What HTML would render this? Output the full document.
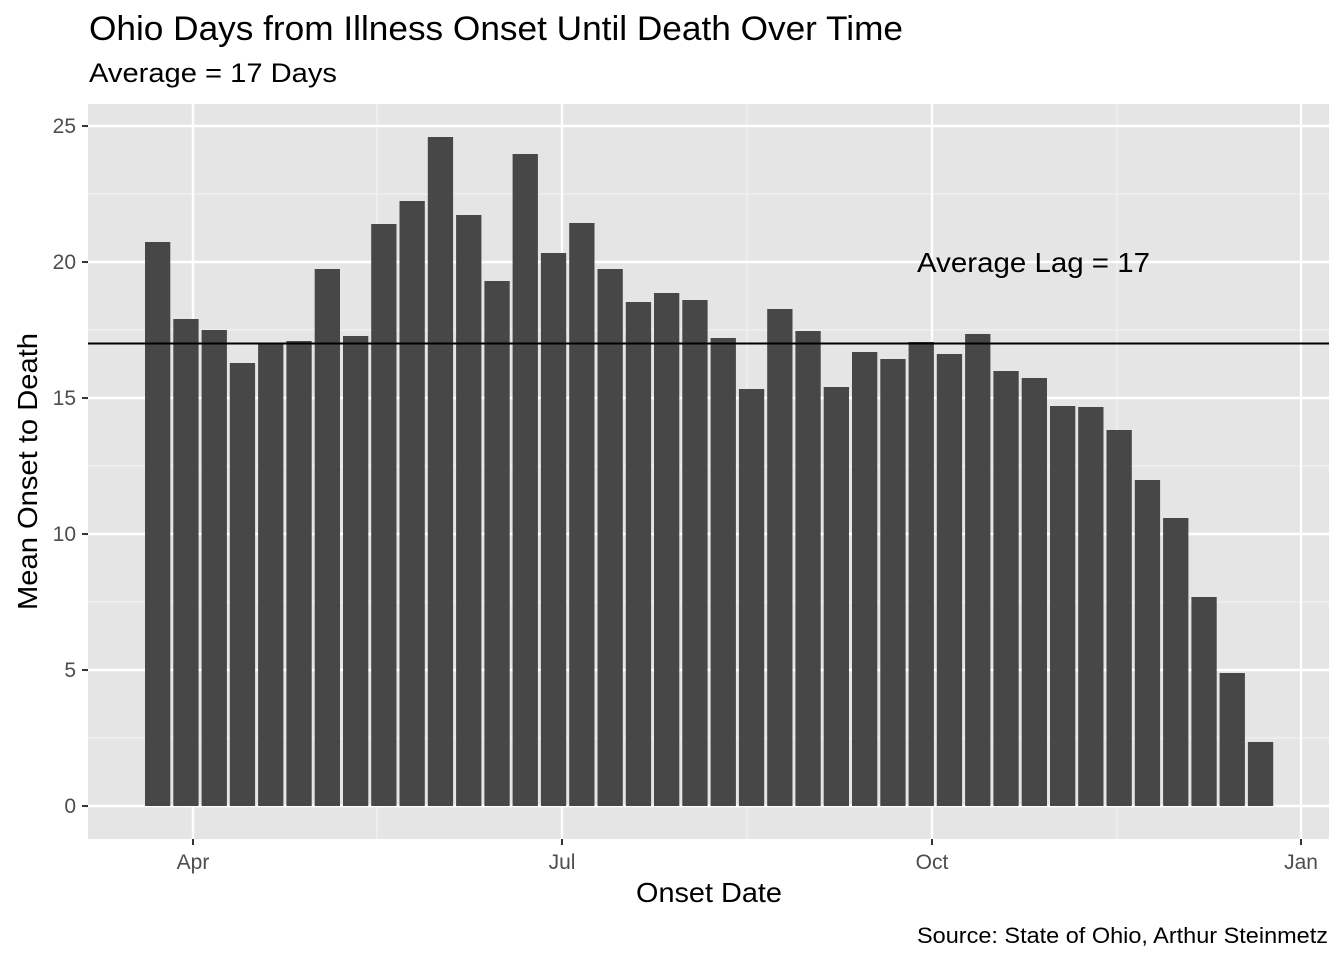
<!DOCTYPE html>
<html><head><meta charset="utf-8"><style>body{margin:0;background:#fff}svg{display:block}text{font-family:"Liberation Sans",Arial,sans-serif}</style></head><body>
<svg width="1344" height="960" xmlns="http://www.w3.org/2000/svg">
<rect x="0" y="0" width="1344" height="960" fill="#fff"/>
<text x="89" y="40" font-size="34" textLength="814" lengthAdjust="spacingAndGlyphs" fill="#000">Ohio Days from Illness Onset Until Death Over Time</text>
<text x="89" y="82" font-size="27" textLength="248" lengthAdjust="spacingAndGlyphs" fill="#000">Average = 17 Days</text>
<rect x="88" y="104" width="1241" height="735" fill="#e5e5e5"/>
<g stroke="#f2f2f2" stroke-width="1.2">
<line x1="88" x2="1329" y1="738" y2="738"/><line x1="88" x2="1329" y1="602" y2="602"/><line x1="88" x2="1329" y1="466" y2="466"/><line x1="88" x2="1329" y1="330" y2="330"/><line x1="88" x2="1329" y1="194" y2="194"/>
<line y1="104" y2="839" x1="377" x2="377"/><line y1="104" y2="839" x1="747" x2="747"/><line y1="104" y2="839" x1="1117" x2="1117"/>
</g>
<g stroke="#fff" stroke-width="2.4">
<line x1="88" x2="1329" y1="806" y2="806"/><line x1="88" x2="1329" y1="670" y2="670"/><line x1="88" x2="1329" y1="534" y2="534"/><line x1="88" x2="1329" y1="398" y2="398"/><line x1="88" x2="1329" y1="262" y2="262"/><line x1="88" x2="1329" y1="126" y2="126"/>
<line y1="104" y2="839" x1="193" x2="193"/><line y1="104" y2="839" x1="562" x2="562"/><line y1="104" y2="839" x1="932" x2="932"/><line y1="104" y2="839" x1="1301" x2="1301"/>
</g>
<g fill="#474747">
<rect x="145.0" y="242" width="25.3" height="564"/>
<rect x="173.3" y="319" width="25.3" height="487"/>
<rect x="201.6" y="330" width="25.3" height="476"/>
<rect x="229.8" y="363" width="25.3" height="443"/>
<rect x="258.1" y="343" width="25.3" height="463"/>
<rect x="286.4" y="341" width="25.3" height="465"/>
<rect x="314.7" y="269" width="25.3" height="537"/>
<rect x="343.0" y="336" width="25.3" height="470"/>
<rect x="371.2" y="224" width="25.3" height="582"/>
<rect x="399.5" y="201" width="25.3" height="605"/>
<rect x="427.8" y="137" width="25.3" height="669"/>
<rect x="456.1" y="215" width="25.3" height="591"/>
<rect x="484.4" y="281" width="25.3" height="525"/>
<rect x="512.6" y="154" width="25.3" height="652"/>
<rect x="540.9" y="253" width="25.3" height="553"/>
<rect x="569.2" y="223" width="25.3" height="583"/>
<rect x="597.5" y="269" width="25.3" height="537"/>
<rect x="625.8" y="302" width="25.3" height="504"/>
<rect x="654.0" y="293" width="25.3" height="513"/>
<rect x="682.3" y="300" width="25.3" height="506"/>
<rect x="710.6" y="338" width="25.3" height="468"/>
<rect x="738.9" y="389" width="25.3" height="417"/>
<rect x="767.2" y="309" width="25.3" height="497"/>
<rect x="795.4" y="331" width="25.3" height="475"/>
<rect x="823.7" y="387" width="25.3" height="419"/>
<rect x="852.0" y="352" width="25.3" height="454"/>
<rect x="880.3" y="359" width="25.3" height="447"/>
<rect x="908.6" y="342" width="25.3" height="464"/>
<rect x="936.8" y="354" width="25.3" height="452"/>
<rect x="965.1" y="334" width="25.3" height="472"/>
<rect x="993.4" y="371" width="25.3" height="435"/>
<rect x="1021.7" y="378" width="25.3" height="428"/>
<rect x="1050.0" y="406" width="25.3" height="400"/>
<rect x="1078.2" y="407" width="25.3" height="399"/>
<rect x="1106.5" y="430" width="25.3" height="376"/>
<rect x="1134.8" y="480" width="25.3" height="326"/>
<rect x="1163.1" y="518" width="25.3" height="288"/>
<rect x="1191.4" y="597" width="25.3" height="209"/>
<rect x="1219.6" y="673" width="25.3" height="133"/>
<rect x="1247.9" y="742" width="25.3" height="64"/>
</g>
<line x1="88" x2="1329" y1="343.5" y2="343.5" stroke="#000" stroke-width="2"/>
<text x="917" y="272" font-size="28" textLength="233" lengthAdjust="spacingAndGlyphs" fill="#000">Average Lag = 17</text>
<g stroke="#333" stroke-width="2">
<line x1="82" x2="88" y1="806" y2="806"/><line x1="82" x2="88" y1="670" y2="670"/><line x1="82" x2="88" y1="534" y2="534"/><line x1="82" x2="88" y1="398" y2="398"/><line x1="82" x2="88" y1="262" y2="262"/><line x1="82" x2="88" y1="126" y2="126"/>
<line y1="839" y2="845" x1="193" x2="193"/><line y1="839" y2="845" x1="562" x2="562"/><line y1="839" y2="845" x1="932" x2="932"/><line y1="839" y2="845" x1="1301" x2="1301"/>
</g>
<g font-size="21" fill="#4d4d4d" text-anchor="end">
<text x="76" y="813">0</text><text x="76" y="677">5</text><text x="76" y="541">10</text><text x="76" y="405">15</text><text x="76" y="269">20</text><text x="76" y="133">25</text>
</g>
<g font-size="21" fill="#4d4d4d" text-anchor="middle">
<text x="193" y="869">Apr</text><text x="562" y="869">Jul</text><text x="932" y="869">Oct</text><text x="1301" y="869">Jan</text>
</g>
<text x="636" y="902" font-size="28" textLength="146" lengthAdjust="spacingAndGlyphs" fill="#000">Onset Date</text>
<text transform="translate(37,610) rotate(-90)" font-size="28" textLength="277" lengthAdjust="spacingAndGlyphs" fill="#000">Mean Onset to Death</text>
<text x="917" y="943" font-size="22" textLength="411" lengthAdjust="spacingAndGlyphs" fill="#000">Source: State of Ohio, Arthur Steinmetz</text>
</svg>
</body></html>
